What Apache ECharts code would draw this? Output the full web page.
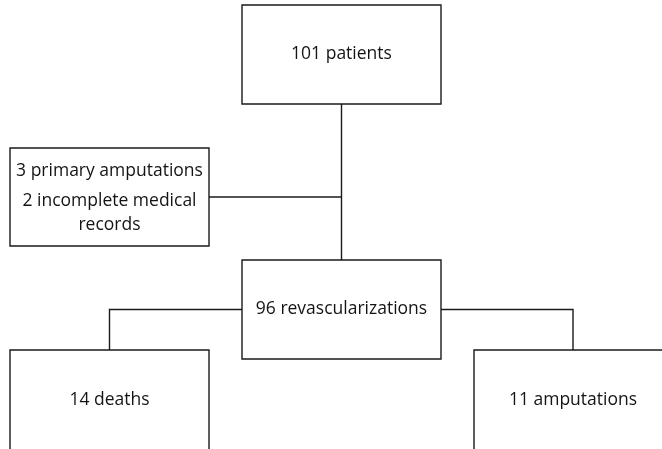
<!DOCTYPE html>
<html>
<head>
<meta charset="utf-8">
<script src="https://cdn.jsdelivr.net/npm/echarts@6/dist/echarts.min.js"></script>
<style>
  html, body { margin: 0; padding: 0; background: #fff; }
  #chart { width: 662px; height: 449px; }
</style>
</head>
<body>
<div id="chart"></div>
<script>
// flowchart boxes (text + layout in chart units, 1 unit = 1px)
const boxLabels = [
  '101 patients',
  '{a|3 primary amputations}\n{b|2 incomplete medical}\n{b|records}',
  '96 revascularizations',
  '14 deaths',
  '11 amputations'
];
const boxLeft = [242, 10, 242, 10, 474];
const boxTop = [5, 148, 260, 350, 350];
const boxWidth = [199, 199, 199, 199, 198];
const boxHeight = [99, 98, 99, 100, 100];

// connectors: [from, to, kind]
const links = [
  [0, 2, 'down'],
  [1, 0, 'join'],
  [2, 3, 'branch'],
  [2, 4, 'branch']
];

const lineColor = '#1a1a1a';
const textColor = '#141414';
const font = '17.5px "Open Sans"';

function cx(i) { return boxLeft[i] + boxWidth[i] / 2; }
function cy(i) { return boxTop[i] + boxHeight[i] / 2; }

function linkPoints(l) {
  const s = l[0], t = l[1];
  if (l[2] === 'down') {
    return [[cx(s), boxTop[s] + boxHeight[s]], [cx(t), boxTop[t]]];
  }
  if (l[2] === 'join') {
    return [[boxLeft[s] + boxWidth[s], cy(s)], [cx(t), cy(s)]];
  }
  const fromX = cx(t) < boxLeft[s] ? boxLeft[s] : boxLeft[s] + boxWidth[s];
  return [[fromX, cy(s)], [cx(t), cy(s)], [cx(t), boxTop[t]]];
}

const chart = echarts.init(document.getElementById('chart'));
const option = {
  animation: false,
  grid: { left: 0, right: 0, top: 0, bottom: 0 },
  xAxis: { type: 'value', min: 0, max: 662, show: false },
  yAxis: { type: 'value', min: 0, max: 449, inverse: true, show: false },
  series: [
    {
      type: 'custom',
      coordinateSystem: 'cartesian2d',
      data: links.map((l, i) => [i]),
      renderItem(params, api) {
        const pts = linkPoints(links[params.dataIndex]).map(p => api.coord(p));
        return {
          type: 'polyline',
          shape: { points: pts },
          style: { fill: null, stroke: lineColor, lineWidth: 1.4 }
        };
      }
    },
    {
      type: 'custom',
      coordinateSystem: 'cartesian2d',
      data: boxLabels.map((_, i) => [boxLeft[i], boxTop[i], boxWidth[i], boxHeight[i]]),
      renderItem(params, api) {
        const i = params.dataIndex;
        const p0 = api.coord([api.value(0), api.value(1)]);
        const p1 = api.coord([api.value(0) + api.value(2), api.value(1) + api.value(3)]);
        const multi = boxLabels[i].indexOf('{') === 0;
        return {
          type: 'group',
          children: [
            {
              type: 'rect',
              shape: { x: p0[0], y: p0[1], width: p1[0] - p0[0], height: p1[1] - p0[1] },
              style: { fill: '#fff', stroke: lineColor, lineWidth: 1.4 }
            },
            {
              type: 'text',
              x: (p0[0] + p1[0]) / 2,
              y: (p0[1] + p1[1]) / 2 + (multi ? -2 : 0),
              style: {
                text: boxLabels[i],
                align: 'center',
                verticalAlign: 'middle',
                fill: textColor,
                font: font,
                rich: {
                  a: { lineHeight: 36, font: font, fill: textColor },
                  b: { lineHeight: 24, font: font, fill: textColor }
                }
              }
            }
          ]
        };
      }
    }
  ]
};
chart.setOption(option);
</script>
</body>
</html>
